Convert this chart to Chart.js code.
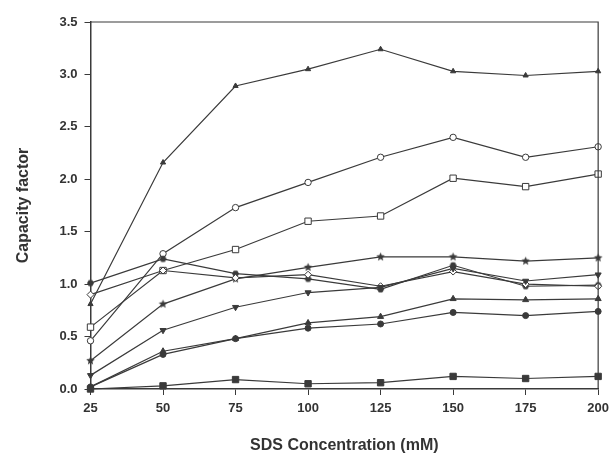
<!DOCTYPE html>
<html><head><meta charset="utf-8">
<script src="https://cdn.jsdelivr.net/npm/chart.js@4/dist/chart.umd.min.js"></script>
<style>html,body{margin:0;padding:0;background:#fff}#wrap{width:615px;height:463px}</style>
</head><body><div id="wrap"><canvas id="c" width="615" height="463"></canvas></div>
<script>
const concentrations = [25, 50, 75, 100, 125, 150, 175, 200];
const yTicks = [0, 0.5, 1.0, 1.5, 2.0, 2.5, 3.0, 3.5];
const seriesTriUpTop = [0.81, 2.16, 2.89, 3.05, 3.24, 3.03, 2.99, 3.03];
const seriesOpenCircle = [0.46, 1.29, 1.73, 1.97, 2.21, 2.40, 2.21, 2.31];
const seriesOpenSquare = [0.59, 1.13, 1.33, 1.60, 1.65, 2.01, 1.93, 2.05];
const seriesStar = [0.27, 0.81, 1.05, 1.16, 1.26, 1.26, 1.22, 1.25];
const seriesHex = [1.01, 1.24, 1.10, 1.05, 0.95, 1.18, 0.98, 0.99];
const seriesOpenDiamond = [0.90, 1.13, 1.06, 1.09, 0.98, 1.12, 1.00, 0.98];
const seriesTriDown = [0.13, 0.56, 0.78, 0.92, 0.97, 1.15, 1.03, 1.09];
const seriesTriUp = [0.02, 0.36, 0.48, 0.63, 0.69, 0.86, 0.85, 0.86];
const seriesFilledCircle = [0.02, 0.33, 0.48, 0.58, 0.62, 0.73, 0.70, 0.74];
const seriesFilledSquare = [0.00, 0.03, 0.09, 0.05, 0.06, 0.12, 0.10, 0.12];

const INK = '#3a3a3a';
function starCanvas(r) {
  const s = Math.ceil(r * 2 + 2), c = document.createElement('canvas');
  c.width = s; c.height = s;
  const g = c.getContext('2d');
  g.fillStyle = INK; g.beginPath();
  for (let i = 0; i < 10; i++) {
    const a = -Math.PI / 2 + i * Math.PI / 5, rr = i % 2 ? r * 0.45 : r;
    g.lineTo(s / 2 + rr * Math.cos(a), s / 2 + rr * Math.sin(a));
  }
  g.closePath(); g.fill();
  return c;
}
function hexCanvas(r) {
  const s = Math.ceil(r * 2 + 2), c = document.createElement('canvas');
  c.width = s; c.height = s;
  const g = c.getContext('2d');
  g.fillStyle = INK; g.beginPath();
  for (let i = 0; i < 6; i++) {
    const a = i * Math.PI / 3;
    g.lineTo(s / 2 + r * Math.cos(a), s / 2 + r * Math.sin(a));
  }
  g.closePath(); g.fill();
  return c;
}
const pts = v => v.map((y, i) => ({x: concentrations[i], y}));
function ds(data, style, filled, radius, rot) {
  return {
    data: pts(data), borderColor: INK, borderWidth: 1.2,
    pointStyle: style, pointRadius: radius, pointRotation: rot || 0,
    pointBackgroundColor: filled ? INK : '#fff', pointBorderColor: INK,
    pointBorderWidth: 1, tension: 0, clip: false, fill: false
  };
}
const frame = {
  id: 'frame',
  afterDraw(chart) {
    const {ctx, chartArea: a} = chart;
    ctx.save(); ctx.strokeStyle = INK; ctx.lineWidth = 1.2;
    ctx.beginPath();
    ctx.moveTo(a.left, a.top); ctx.lineTo(a.right, a.top); ctx.lineTo(a.right, a.bottom);
    ctx.stroke(); ctx.restore();
  }
};
new Chart(document.getElementById('c'), {
  type: 'line',
  data: { datasets: [
    ds(seriesFilledSquare, 'rect', true, 4.5),
    ds(seriesFilledCircle, 'circle', true, 3),
    ds(seriesTriUp, 'triangle', true, 3.5),
    ds(seriesTriDown, 'triangle', true, 3.5, 180),
    ds(seriesOpenDiamond, 'rectRot', false, 3.5),
    ds(seriesHex, hexCanvas(3.5), true, 3.5),
    ds(seriesStar, starCanvas(4.5), true, 4.5),
    ds(seriesOpenSquare, 'rect', false, 4.5),
    ds(seriesOpenCircle, 'circle', false, 3.2),
    ds(seriesTriUpTop, 'triangle', true, 3)
  ]},
  options: {
    responsive: false, animation: false,
    layout: { padding: { top: 22, right: 15, left: 0, bottom: 0 } },
    plugins: { legend: { display: false }, tooltip: { enabled: false } },
    scales: {
      x: {
        type: 'linear', min: 25, max: 200,
        afterBuildTicks: s => { s.ticks = concentrations.map(v => ({value: v})); },
        afterFit: s => { s.height = 74; },
        border: { color: INK, width: 1.5 },
        grid: { drawOnChartArea: false, tickLength: 6, color: INK, tickColor: INK },
        ticks: { color: '#333', padding: 6, maxRotation: 0, font: { family: 'Liberation Sans', weight: 'bold', size: 13 } },
        title: { display: true, text: 'SDS Concentration (mM)', color: '#333', padding: { top: 0, bottom: 8 },
          font: { family: 'Liberation Sans', weight: 'bold', size: 16 } }
      },
      y: {
        min: 0, max: 3.5,
        afterBuildTicks: s => { s.ticks = yTicks.map(v => ({value: v})); },
        afterFit: s => { s.width = 90.5; },
        border: { color: INK, width: 1.5 },
        grid: { drawOnChartArea: false, tickLength: 6, color: INK, tickColor: INK },
        ticks: { color: '#333', padding: 7, callback: v => v.toFixed(1), font: { family: 'Liberation Sans', weight: 'bold', size: 13 } },
        title: { display: true, text: 'Capacity factor', color: '#333', padding: { top: 14, bottom: 0 },
          font: { family: 'Liberation Sans', weight: 'bold', size: 16 } }
      }
    }
  },
  plugins: [frame]
});
</script></body></html>
